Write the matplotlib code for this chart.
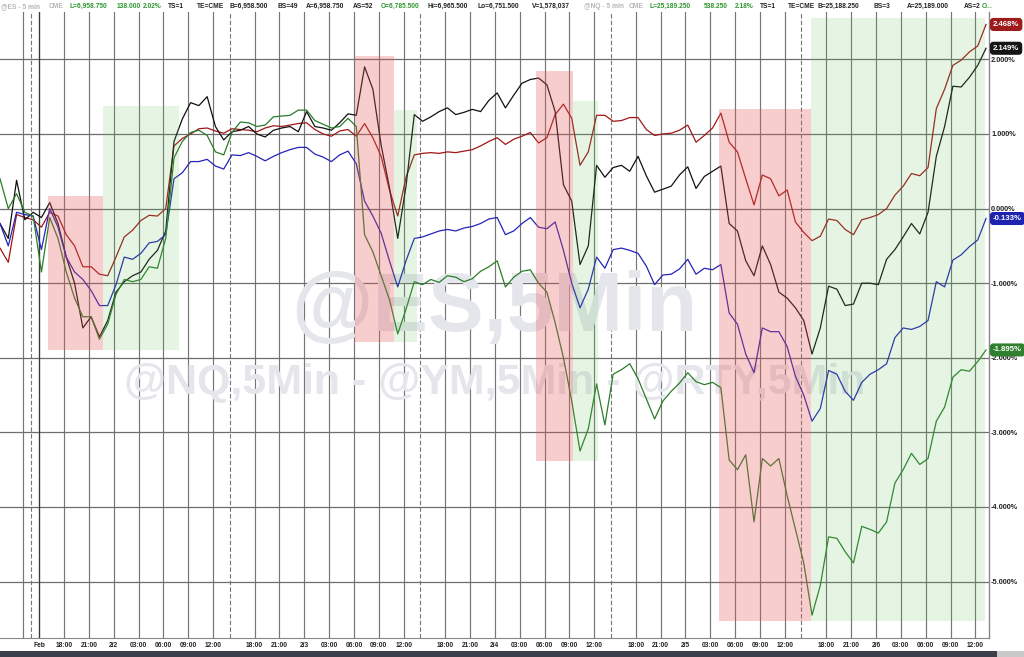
import numpy as np
import matplotlib
matplotlib.use("Agg")
import matplotlib.pyplot as plt
from matplotlib.patches import Rectangle
import matplotlib.transforms as mtransforms

plt.rcParams['font.family'] = ['Liberation Sans', 'DejaVu Sans']

# ---------------- data (percent change, sampled every trading hour) ----------------
hours = np.arange(120)

red = [-0.53, -0.72, -0.08, -0.12, -0.15, -0.25, -0.05, -0.10, -0.35, -0.50,
       -0.78, -0.78, -0.88, -0.90, -0.65, -0.38, -0.29, -0.16, -0.09, -0.10,
       0.00, 0.84, 0.94, 1.00, 1.07, 1.08, 1.04, 1.01, 1.07, 1.06,
       1.05, 1.03, 1.08, 1.11, 1.10, 1.12, 1.14, 1.15, 1.06, 1.00,
       0.97, 1.04, 1.06, 0.97, 1.14, 0.95, 0.70, 0.25, -0.10, 0.42,
       0.72, 0.74, 0.75, 0.74, 0.76, 0.75, 0.77, 0.79, 0.84, 0.90,
       0.95, 0.86, 0.93, 0.97, 1.02, 0.88, 0.95, 1.26, 1.40, 1.21,
       0.58, 0.76, 1.25, 1.25, 1.17, 1.18, 1.22, 1.22, 1.06, 0.98,
       1.00, 1.01, 1.05, 1.12, 0.89, 0.98, 1.08, 1.28, 0.89, 0.76,
       0.40, 0.05, 0.45, 0.40, 0.17, 0.25, -0.18, -0.32, -0.43, -0.37,
       -0.14, -0.16, -0.28, -0.35, -0.15, -0.12, -0.08, 0.00, 0.18, 0.30,
       0.47, 0.44, 0.55, 1.34, 1.60, 1.92, 1.99, 2.10, 2.18, 2.468]

black = [-0.20, -0.40, 0.38, -0.15, -0.05, -0.12, 0.08, -0.20, -0.65, -1.00,
         -1.60, -1.45, -1.72, -1.50, -1.12, -0.98, -0.90, -0.85, -0.68, -0.56,
         -0.30, 0.90, 1.20, 1.42, 1.38, 1.50, 1.10, 0.92, 1.03, 1.05,
         1.10, 1.00, 0.96, 1.05, 1.08, 1.10, 1.03, 1.30, 1.10, 1.08,
         1.05, 1.15, 1.27, 1.25, 1.90, 1.60, 0.85, 0.28, -0.40, 0.30,
         1.26, 1.17, 1.23, 1.30, 1.35, 1.26, 1.29, 1.33, 1.30, 1.45,
         1.55, 1.35, 1.52, 1.68, 1.73, 1.75, 1.66, 1.30, 0.32, 0.10,
         -0.75, -0.50, 0.58, 0.42, 0.55, 0.58, 0.50, 0.70, 0.44, 0.22,
         0.26, 0.30, 0.45, 0.56, 0.27, 0.43, 0.50, 0.57, -0.20, -0.30,
         -0.70, -0.90, -0.50, -0.75, -1.12, -1.20, -1.33, -1.50, -1.95, -1.60,
         -1.04, -1.08, -1.30, -1.28, -1.00, -1.00, -1.02, -0.68, -0.55, -0.38,
         -0.20, -0.34, -0.05, 0.70, 1.10, 1.64, 1.63, 1.76, 1.92, 2.149]

blue = [-0.20, -0.50, -0.05, -0.08, -0.10, -0.55, 0.00, -0.25, -0.65, -0.85,
        -0.95, -1.10, -1.30, -1.30, -1.02, -0.65, -0.68, -0.60, -0.46, -0.44,
        -0.35, 0.40, 0.48, 0.63, 0.63, 0.66, 0.57, 0.53, 0.72, 0.71,
        0.75, 0.70, 0.64, 0.70, 0.75, 0.79, 0.82, 0.82, 0.73, 0.69,
        0.63, 0.72, 0.77, 0.60, 0.10, -0.10, -0.33, -0.70, -1.05, -0.70,
        -0.40, -0.38, -0.34, -0.30, -0.28, -0.30, -0.26, -0.24, -0.20, -0.14,
        -0.12, -0.35, -0.30, -0.20, -0.12, -0.25, -0.27, -0.18, -0.56, -1.00,
        -1.33, -1.08, -0.65, -0.80, -0.55, -0.53, -0.56, -0.60, -0.77, -1.02,
        -0.89, -0.88, -0.81, -0.68, -0.88, -0.80, -0.82, -0.75, -1.40, -1.55,
        -1.95, -2.20, -1.60, -1.65, -1.65, -1.85, -2.25, -2.50, -2.85, -2.68,
        -2.17, -2.22, -2.45, -2.57, -2.33, -2.22, -2.16, -2.08, -1.73, -1.60,
        -1.62, -1.58, -1.50, -0.98, -1.05, -0.69, -0.62, -0.51, -0.42, -0.133]

green = [0.40, 0.00, 0.20, -0.05, -0.10, -0.85, -0.12, -0.40, -0.85, -1.20,
         -1.45, -1.45, -1.75, -1.55, -1.15, -0.95, -0.98, -0.95, -0.78, -0.80,
         -0.40, 0.68, 0.90, 1.02, 1.05, 0.98, 0.76, 0.72, 1.02, 1.16,
         1.15, 1.10, 1.12, 1.23, 1.24, 1.25, 1.32, 1.32, 1.18, 1.13,
         1.08, 1.10, 1.21, 1.10, -0.35, -0.58, -0.90, -1.22, -1.68, -1.35,
         -0.98, -1.02, -0.95, -0.99, -0.90, -0.92, -0.98, -0.94, -0.84, -0.78,
         -0.70, -1.05, -0.92, -0.84, -0.82, -1.00, -1.12, -1.53, -2.00, -2.58,
         -3.25, -2.95, -2.35, -2.90, -2.22, -2.16, -2.08, -2.28, -2.55, -2.82,
         -2.58, -2.45, -2.34, -2.20, -2.32, -2.36, -2.33, -2.40, -3.37, -3.50,
         -3.30, -4.20, -3.35, -3.45, -3.35, -3.85, -4.30, -4.75, -5.45, -5.05,
         -4.40, -4.42, -4.60, -4.75, -4.26, -4.30, -4.35, -4.20, -3.68, -3.50,
         -3.28, -3.43, -3.35, -2.85, -2.66, -2.26, -2.16, -2.18, -2.05, -1.895]

series_values = [red, black, blue, green]
series_colors = ['#a01616', '#111111', '#2424b8', '#2a7d2a']
label_colors = ['#9e1b1b', '#151515', '#1f24b0', '#2e7f2e']

# shaded zones (trading hours, percent)
zone_start = [5.83, 12.39, 42.88, 47.55, 64.65, 69.19, 86.77, 97.84]
zone_end = [12.39, 21.60, 47.55, 50.29, 69.19, 72.13, 97.84, 118.87]
zone_low = [-1.89, -1.89, -1.79, -1.79, -3.38, -3.38, -5.53, -5.53]
zone_high = [0.17, 1.37, 2.04, 1.32, 1.84, 1.44, 1.33, 2.56]
zone_kind = ['down', 'up', 'down', 'up', 'down', 'up', 'down', 'up']

# time axis (trading hours; the 17:00-18:00 break is skipped)
session0 = 7.72
session_len = 23
session_dates = ['2/2', '2/3', '2/4', '2/5', '2/6']
tick_offsets = [0, 3, 6, 9, 12, 15, 18]
tick_names = ['18:00', '21:00', None, '03:00', '06:00', '09:00', '12:00']
y_ticks = [2, 1, 0, -1, -2, -3, -4, -5]

# header strip
header_items = [
    ('@ES - 5 min', 1, '#b5b5b5'), ('CME', 49, '#b5b5b5'),
    ('L=6,958.750', 69, '#2f962f'), ('138.000', 117, '#2f962f'), ('2.02%', 143, '#2f962f'),
    ('TS=1', 168, '#222222'), ('TE=CME', 197, '#222222'), ('B=6,958.500', 230, '#222222'),
    ('BS=49', 277, '#222222'), ('A=6,958.750', 306, '#222222'), ('AS=52', 353, '#222222'),
    ('O=6,785.500', 381, '#2f962f'), ('Hi=6,965.500', 428, '#222222'),
    ('Lo=6,751.500', 478, '#222222'), ('V=1,578,037', 532, '#222222'),
    ('@NQ - 5 min', 584, '#b5b5b5'), ('CME', 629, '#b5b5b5'),
    ('L=25,189.250', 650, '#2f962f'), ('538.250', 704, '#2f962f'), ('2.18%', 735, '#2f962f'),
    ('TS=1', 760, '#222222'), ('TE=CME', 788, '#222222'), ('B=25,188.250', 818, '#222222'),
    ('BS=3', 874, '#222222'), ('A=25,189.000', 907, '#222222'), ('AS=2', 964, '#222222'),
    ('O...', 982, '#2f962f'),
]

W, H = 1024, 657
fig = plt.figure(figsize=(W / 100, H / 100), dpi=100)
ax = fig.add_axes([0 / W, 1 - 638 / H, 989 / W, (638 - 12) / H])

ax.set_xlim(0, 989 / 8.286)
ax.set_ylim(-5.756, 2.635)

# ticks & grid
major_pos, major_lab = [session0 - 5, session0 - 3], ['', 'Feb']
for d, date in enumerate(session_dates):
    for off, name in zip(tick_offsets, tick_names):
        major_pos.append(session0 + d * session_len + off)
        major_lab.append(date if name is None else name)
minor_pos = [session0 - 4] + [session0 + d * session_len + 20 for d in range(4)]
ax.set_xticks(major_pos)
ax.set_xticklabels(major_lab, fontweight='bold')
ax.set_xticks(minor_pos, minor=True)
ax.tick_params(axis='x', which='both', length=0, labelsize=4.8, pad=3, colors='#222222')
ax.grid(True, which='major', axis='x', color='#767676', linewidth=0.85, zorder=0)
ax.grid(True, which='minor', axis='x', color='#767676', linewidth=0.8,
        linestyle=(0, (4, 2)), zorder=0)
ax.axvline(session0 - 3, color='#3a3a3a', linewidth=0.9, zorder=0.6)

ax.yaxis.tick_right()
ax.set_yticks(y_ticks)
ax.set_yticklabels([f'{v:.3f}%' for v in y_ticks], fontweight='bold')
ax.tick_params(axis='y', length=0, labelsize=5.3, pad=1.5, colors='#222222')
ax.grid(True, which='major', axis='y', color='#6e6e6e', linewidth=0.9, zorder=0)
ax.set_axisbelow(True)
for side in ['left', 'top']:
    ax.spines[side].set_visible(False)
ax.spines['right'].set_color('#888888')
ax.spines['right'].set_linewidth(1.0)
ax.spines['bottom'].set_color('#888888')
ax.spines['bottom'].set_linewidth(0.8)

# watermark
ax.text(0.5, 0.49, '@ES,5Min', transform=ax.transAxes, ha='center', va='baseline',
        fontsize=60, fontweight='bold', color='#e4e6ec', zorder=1)
ax.text(0.5, 0.39, '@NQ,5Min - @YM,5Min - @RTY,5Min', transform=ax.transAxes,
        ha='center', va='baseline', fontsize=31, fontweight='bold', color='#e4e6ec', zorder=1)

# lines
for vals, col in zip(series_values, series_colors):
    ax.plot(hours, vals, color=col, linewidth=0.9, zorder=2)

# zones (drawn over the lines, semi-transparent)
for x0, x1, lo, hi, kind in zip(zone_start, zone_end, zone_low, zone_high, zone_kind):
    fc = '#e85a5a' if kind == 'down' else '#62c055'
    al = 0.30 if kind == 'down' else 0.16
    ax.add_patch(Rectangle((x0, lo), x1 - x0, hi - lo, facecolor=fc, alpha=al,
                           edgecolor='none', zorder=3))

# last-value labels
trans = mtransforms.blended_transform_factory(ax.transAxes, ax.transData)
for vals, col in zip(series_values, label_colors):
    v = vals[-1]
    ax.text(1.004, v, f'{v:.3f}%', transform=trans, ha='left', va='center',
            fontsize=5.6, fontweight='bold', color='white', zorder=5, clip_on=False,
            bbox=dict(boxstyle='round,pad=0.3,rounding_size=0.35', facecolor=col,
                      edgecolor=col))

# header
for txt, xp, col in header_items:
    fig.text(xp / W, 1 - 6.5 / H, txt, ha='left', va='center', fontsize=4.8,
             fontweight='bold', color=col)

# bottom strip
fig.add_artist(Rectangle((0, 0), 1, 6 / H, transform=fig.transFigure,
                         facecolor='#3b3f4a', edgecolor='none'))
fig.add_artist(Rectangle((997 / W, 0), 27 / W, 6 / H, transform=fig.transFigure,
                         facecolor='#c9c9c9', edgecolor='none'))

fig.savefig('out.png', dpi=100)
